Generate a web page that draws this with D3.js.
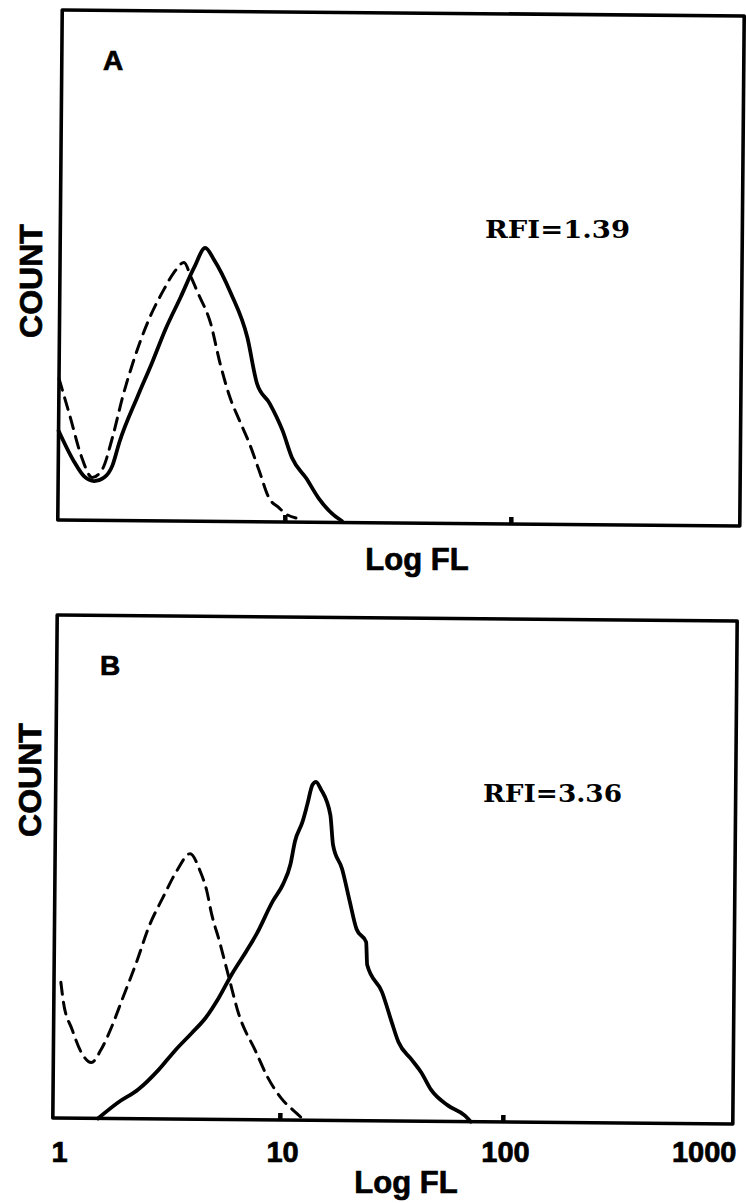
<!DOCTYPE html>
<html><head><meta charset="utf-8">
<script src="https://cdn.jsdelivr.net/npm/d3@7"></script>
<style>html,body{margin:0;padding:0;background:#fff;} svg{display:block;background:#fff}</style>
</head><body><svg id="c" width="746" height="1203"></svg>
<script>
// ---------------- data ----------------
const panelLabels = ["A", "B"];
const rfiLabels = ["RFI=1.39", "RFI=3.36"];
const xTickValues = [1, 10, 100, 1000];
const xTickLabels = ["1", "10", "100", "1000"];
const xMinorTicks = [10, 100];
const xAxisTitle = "Log FL";
const yAxisTitle = "COUNT";

// Panel A – control (dashed)
const flA_control = [0.99, 1.11, 1.25, 1.40, 1.55, 1.72, 1.90, 2.10, 2.43, 2.86, 3.16, 3.50, 3.76, 4.04, 4.61, 5.10, 5.65, 6.25, 6.93, 7.67, 8.49, 9.40, 10.1, 11.2];
const countA_control = [27.7, 20.4, 12.6, 8.4, 10.0, 16.5, 24.4, 31.0, 38.9, 45.4, 48.7, 50.7, 47.9, 44.8, 38.9, 31.0, 24.4, 19.8, 15.3, 10.0, 4.7, 2.8, 1.6, 0.8];
// Panel A – sample (solid)
const flA_sample = [0.99, 1.165, 1.29, 1.43, 1.58, 1.72, 1.84, 2.21, 2.55, 2.91, 3.40, 3.88, 4.34, 4.75, 5.65, 6.72, 7.44, 8.49, 9.70, 10.7, 12.4, 14.1, 16.1, 17.9];
const countA_sample = [17.5, 11.4, 8.6, 7.7, 8.4, 10.8, 15.3, 24.4, 31.0, 37.5, 44.0, 49.7, 53.6, 51.3, 44.8, 36.1, 27.1, 23.2, 17.9, 12.6, 8.6, 4.7, 1.8, 0.3];

// Panel B – control (dashed)
const flB_control = [1.03, 1.06, 1.16, 1.28, 1.42, 1.57, 1.75, 1.94, 2.24, 2.56, 2.93, 3.38, 3.87, 4.29, 4.61, 4.85, 5.27, 5.84, 6.48, 7.73, 8.83, 10.1, 12.0, 12.7];
const countB_control = [27.0, 23.0, 17.7, 13.1, 11.1, 13.7, 18.3, 23.6, 31.0, 38.5, 44.0, 49.4, 52.8, 49.4, 45.4, 40.9, 35.5, 28.2, 21.0, 13.7, 8.3, 4.4, 1.2, 0.2];
// Panel B – sample (solid)
const flB_sample = [1.53, 1.88, 2.31, 2.84, 3.38, 3.99, 4.61, 5.27, 6.03, 6.97, 7.73, 9.12, 10.1, 10.9, 11.4, 12.3, 12.9, 13.6, 14.1, 14.8, 16.4, 16.9, 18.6, 20.2, 21.7, 24.0, 24.3, 28.4, 31.5, 33.8, 38.7, 42.9, 47.5, 56.6, 67.6, 71.9];
const countB_sample = [0.0, 3.2, 5.8, 9.7, 13.7, 17.1, 20.2, 24.2, 29.0, 33.5, 36.9, 43.5, 46.8, 50.8, 55.4, 59.3, 62.7, 66.7, 67.3, 65.9, 60.7, 54.8, 50.0, 43.5, 38.1, 35.5, 31.0, 25.6, 19.6, 15.7, 12.3, 9.7, 6.3, 3.2, 1.2, 0.0];

// ---------------- layout ----------------
const zip = (a, b) => a.map((v, i) => [v, b[i]]);
const panels = [
  { label: panelLabels[0], rfi: rfiLabels[0],
    control: zip(flA_control, countA_control), sample: zip(flA_sample, countA_sample),
    frame: { x0: 60, x1: 742, y0: 13, y1: 523 }, xr: [61, 739], angle: 0.5,
    labelPos: [103, 70], rfiPos: [485, 238, 145], titlePos: [417, 570], countPos: [42, 281], tickLabels: false },
  { label: panelLabels[1], rfi: rfiLabels[1],
    control: zip(flB_control, countB_control), sample: zip(flB_sample, countB_sample),
    frame: { x0: 55, x1: 735, y0: 618, y1: 1121 }, xr: [59, 728], angle: 0.5,
    labelPos: [100, 675], rfiPos: [483, 802, 139], titlePos: [406, 1193], countPos: [41, 780], tickLabels: true }
];

const svg = d3.select("#c");
svg.append("rect").attr("width", 746).attr("height", 1203).attr("fill", "#fff");
const sans = "'Liberation Sans', Arial, Helvetica, sans-serif";
const heavy = sel => sel.attr("font-family", sans).attr("font-weight", "bold")
  .attr("fill", "#000").attr("stroke", "#000").attr("stroke-width", 0.7);

panels.forEach(p => {
  const f = p.frame;
  const x = d3.scaleLog().domain([1, 1000]).range(p.xr);
  const y = d3.scaleLinear().domain([0, 100]).range([f.y1, f.y0]);
  const cx = (f.x0 + f.x1) / 2, cy = (f.y0 + f.y1) / 2;

  const g = svg.append("g").attr("transform", `rotate(${p.angle},${cx},${cy})`);

  const line = d3.line().curve(d3.curveMonotoneX).x(d => x(d[0])).y(d => y(d[1]));

  g.append("path").datum(p.control)
    .attr("d", line).attr("fill", "none").attr("stroke", "#000")
    .attr("stroke-width", 3).attr("stroke-dasharray", "12,8")
    .attr("stroke-linecap", "round").attr("stroke-linejoin", "round");

  g.append("path").datum(p.sample)
    .attr("d", line).attr("fill", "none").attr("stroke", "#000")
    .attr("stroke-width", 3.8).attr("stroke-linejoin", "round").attr("stroke-linecap", "round");

  // frame
  g.append("rect").attr("x", f.x0).attr("y", f.y0)
    .attr("width", f.x1 - f.x0).attr("height", f.y1 - f.y0)
    .attr("fill", "none").attr("stroke", "#000").attr("stroke-width", 3.6)
    .attr("stroke-linejoin", "round");

  // small inner ticks at 10 and 100
  const tickAxis = d3.axisBottom(x).tickValues(xMinorTicks).tickSize(-7).tickFormat("");
  const ta = g.append("g").attr("transform", `translate(0,${f.y1})`).call(tickAxis);
  ta.select(".domain").remove();
  ta.selectAll(".tick line").attr("stroke", "#000").attr("stroke-width", 4.5);

  // tick labels (panel B only)
  if (p.tickLabels) {
    const labAxis = d3.axisBottom(x).tickValues(xTickValues)
      .tickFormat((d, i) => xTickLabels[i]).tickSize(0).tickPadding(20);
    const la = svg.append("g").attr("transform", `translate(0,${f.y1})`).call(labAxis);
    la.select(".domain").remove();
    la.selectAll("text").call(heavy).attr("font-size", 29);
    la.selectAll(".tick").filter(d => d === 1000).select("text")
      .attr("text-anchor", "end").attr("x", f.x1 - x(1000) + 1);
  }

  // panel letter
  svg.append("text").attr("x", p.labelPos[0]).attr("y", p.labelPos[1])
    .call(heavy).attr("font-size", 28).text(p.label);

  // RFI annotation
  svg.append("text").attr("x", p.rfiPos[0]).attr("y", p.rfiPos[1])
    .attr("font-family", "'DejaVu Serif', 'Liberation Serif', serif").attr("font-size", 24)
    .attr("font-weight", "bold")
    .attr("textLength", p.rfiPos[2]).attr("lengthAdjust", "spacingAndGlyphs")
    .text(p.rfi);

  // x title
  svg.append("text").attr("x", p.titlePos[0]).attr("y", p.titlePos[1])
    .attr("text-anchor", "middle").call(heavy).attr("font-size", 31)
    .text(xAxisTitle);

  // y title
  svg.append("text").attr("transform", `translate(${p.countPos[0]},${p.countPos[1]}) rotate(-90)`)
    .attr("text-anchor", "middle").call(heavy).attr("font-size", 32)
    .text(yAxisTitle);
});
</script>
</body></html>
